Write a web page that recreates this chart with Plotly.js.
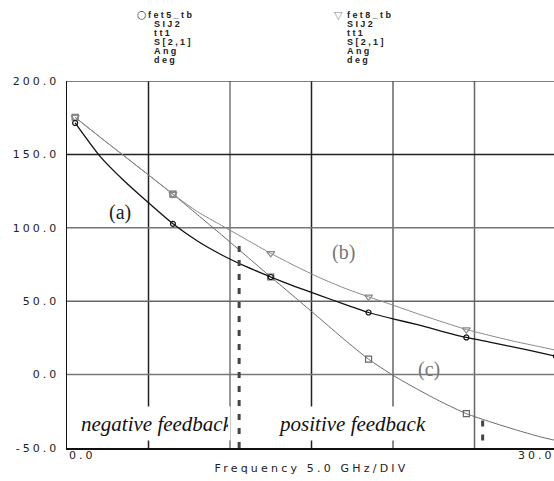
<!DOCTYPE html>
<html>
<head>
<meta charset="utf-8">
<script src="https://cdn.plot.ly/plotly-3.0.1.min.js"></script>
<style>
  html, body { margin: 0; padding: 0; overflow: hidden; background: #fff; }
  #chart { width: 557px; height: 481px; }
  .ytick text { letter-spacing: 3px; }
  .g-xtitle text { letter-spacing: 3.2px; }
  text.annotation-text[style*="DejaVu Sans"] { letter-spacing: 3px; }
  text.annotation-text[style*="Liberation Sans"] { letter-spacing: 2.4px; }
</style>
</head>
<body>
<div id="chart"></div>
<script>
// Swept frequency (GHz) and S[2,1] phase (deg) of the three amplifier variants
const freq = [0.5, 2, 3.5, 5, 6.5, 8, 9.5, 11, 12.5, 14, 15.5, 17, 18.5, 20, 21.5, 23, 24.5, 26, 27.5, 29, 30];
const angA = [171.4, 149, 132, 117, 102.7, 91, 81.5, 73.5, 66.5, 60, 54, 48, 42.3, 38, 34, 29.5, 25.3, 22, 18.5, 15, 12.5];
const angB = [175.3, 162, 149, 136, 122.9, 111, 101.5, 92, 82.6, 74, 66, 59, 53, 47.3, 41.5, 36, 30.7, 26.5, 22.5, 19, 16.6];
const angC = [175.3, 162, 149, 136, 122.9, 109, 95, 80.8, 66.5, 52.5, 38.3, 24, 10.5, -0.5, -10, -18.8, -26.6, -32.3, -37.5, -42.3, -44.9];

// frequencies that carry a marker symbol
const markFreqA = [0.5, 6.5, 12.5, 18.5, 24.5, 30];
const markFreqBC = [0.5, 6.5, 12.5, 18.5, 24.5];

// feedback region boundaries: frequency (GHz) and upper end (deg)
const edgeFreq = [10.56, 25.5];
const edgeTop = [87.6, -31.2];

const yTickVals = [-50, 0, 50, 100, 150, 200];
const yTickText = ['-50.0', '0.0', '50.0', '100.0', '150.0', '200.0'];
const xTickVals = [0, 30];
const xTickText = ['0.0', '30.0'];
const gridX = [5, 10, 15, 20, 25];
const gridY = [0, 50, 100, 150, 200];

const legendA = ['fet5_tb', 'SIJ2', 'tt1', 'S[2,1]', 'Ang', 'deg'];
const legendB = ['fet8_tb', 'SIJ2', 'tt1', 'S[2,1]', 'Ang', 'deg'];
const curveLabels = ['(a)', '(b)', '(c)'];
const regionLabels = ['negative feedback', 'positive feedback'];

// plot-area geometry (pixels) for placing free text
const L = 67, T = 81, PW = 489, PH = 367;
const px = x => (x - L) / PW;
const py = y => (T + PH - y) / PH;

const pick = (arr, fs) => fs.map(f => arr[freq.indexOf(f)]);

const traces = [
  { x: freq, y: angC, mode: 'lines', line: { color: '#6a6a6a', width: 1, shape: 'spline', smoothing: 0.6 } },
  { x: markFreqBC, y: pick(angC, markFreqBC), mode: 'markers',
    marker: { symbol: 'square-open', size: 6, color: '#666', line: { width: 1.2 } } },
  { x: freq, y: angB, mode: 'lines', line: { color: '#8a8a8a', width: 1, shape: 'spline', smoothing: 0.6 } },
  { x: markFreqBC, y: pick(angB, markFreqBC), mode: 'markers',
    marker: { symbol: 'triangle-down-open', size: 7, color: '#888', line: { width: 1.2 } } },
  { x: freq, y: angA, mode: 'lines', line: { color: '#111', width: 1.3, shape: 'spline', smoothing: 0.6 } },
  { x: markFreqA, y: pick(angA, markFreqA), mode: 'markers',
    marker: { symbol: 'circle-open', size: 5, color: '#111', line: { width: 1.2 } } }
];

const gridXCol = ['#222', '#777', '#222', '#666', '#666'];
const gridYCol = ['#777', '#666', '#777', '#222', '#555'];
const shapes = [];
gridX.forEach((g, i) => shapes.push({
  type: 'line', layer: 'below', xref: 'x', yref: 'paper', x0: g, x1: g, y0: 0, y1: 1,
  line: { color: gridXCol[i], width: 1.5 }
}));
gridY.forEach((g, i) => shapes.push({
  type: 'line', layer: 'below', xref: 'paper', yref: 'y', x0: 0, x1: 1, y0: g, y1: g,
  line: { color: gridYCol[i], width: 1.5 }
}));
edgeFreq.forEach((f, i) => shapes.push({
  type: 'line', layer: 'above', xref: 'x', yref: 'y', x0: f, x1: f, y0: edgeTop[i], y1: -50,
  line: { color: '#444', width: 3, dash: '6px,8px' }
}));

const annotations = [];
const axisFont = { family: 'DejaVu Sans', size: 11, color: '#222' };
annotations.push({ xref: 'x', yref: 'paper', x: xTickVals[0], y: py(455), xanchor: 'left', yanchor: 'middle',
  xshift: 0, text: xTickText[0], showarrow: false, font: axisFont });
annotations.push({ xref: 'x', yref: 'paper', x: xTickVals[1], y: py(455), xanchor: 'right', yanchor: 'middle',
  xshift: 1, text: xTickText[1], showarrow: false, font: axisFont });

const legFont = { family: 'Liberation Sans', size: 9, color: '#222', weight: 'bold' };
legendA.forEach((t, i) => annotations.push({
  xref: 'paper', yref: 'paper', x: px(i === 0 ? 146 : 152), y: py(15 + 9 * i),
  xanchor: 'left', yanchor: 'middle', text: t, showarrow: false, font: legFont
}));
legendB.forEach((t, i) => annotations.push({
  xref: 'paper', yref: 'paper', x: px(345), y: py(15 + 9 * i),
  xanchor: 'left', yanchor: 'middle', text: t, showarrow: false, font: legFont
}));
annotations.push({ xref: 'paper', yref: 'paper', x: px(143), y: py(14.5), xanchor: 'center', yanchor: 'middle',
  text: '○', showarrow: false, font: { family: 'DejaVu Sans', size: 11, color: '#333' } });
annotations.push({ xref: 'paper', yref: 'paper', x: px(338), y: py(14), xanchor: 'center', yanchor: 'middle',
  text: '▽', showarrow: false, font: { family: 'Noto Sans', size: 11, color: '#888' } });

const labelPos = [[119.5, 212.5, '#222'], [343, 252.5, '#777'], [429, 369, '#777']];
curveLabels.forEach((t, i) => annotations.push({
  xref: 'paper', yref: 'paper', x: px(labelPos[i][0]), y: py(labelPos[i][1]),
  xanchor: 'center', yanchor: 'middle', text: t, showarrow: false,
  font: { family: 'Liberation Serif', size: 20, color: labelPos[i][2] }
}));

const regionFont = { family: 'Liberation Serif', size: 21, color: '#111' };
annotations.push({ xref: 'paper', yref: 'paper', x: px(78), y: py(423.5), xanchor: 'left', yanchor: 'middle',
  width: 147, height: 29, borderpad: 2, align: 'left', bgcolor: '#fff',
  text: '<i>' + regionLabels[0] + '</i>', showarrow: false, font: regionFont });
annotations.push({ xref: 'paper', yref: 'paper', x: px(352), y: py(423.5), xanchor: 'center', yanchor: 'middle',
  width: 186, height: 29, borderpad: 2, align: 'center', bgcolor: '#fff',
  text: '<i>' + regionLabels[1] + '</i>', showarrow: false, font: regionFont });

const layout = {
  width: 557, height: 481,
  margin: { l: L, r: 557 - L - PW, t: T, b: 481 - T - PH, pad: 0 },
  paper_bgcolor: '#fff', plot_bgcolor: '#fff',
  showlegend: false,
  xaxis: {
    range: [0, 30], showgrid: false, zeroline: false, showticklabels: false, ticks: '',
    showline: true, linecolor: '#111', linewidth: 1.5, automargin: false,
    title: { text: 'Frequency 5.0 GHz/DIV', font: axisFont, standoff: 16 }
  },
  yaxis: {
    range: [-50, 200], showgrid: false, zeroline: false, ticks: '',
    tickvals: yTickVals, ticktext: yTickText, tickfont: axisFont,
    showline: true, linecolor: '#111', linewidth: 1.5, automargin: false,
    ticklabelstandoff: 4
  },
  shapes: shapes,
  annotations: annotations
};

Plotly.newPlot('chart', traces, layout, { staticPlot: true, displayModeBar: false });
</script>
</body>
</html>
